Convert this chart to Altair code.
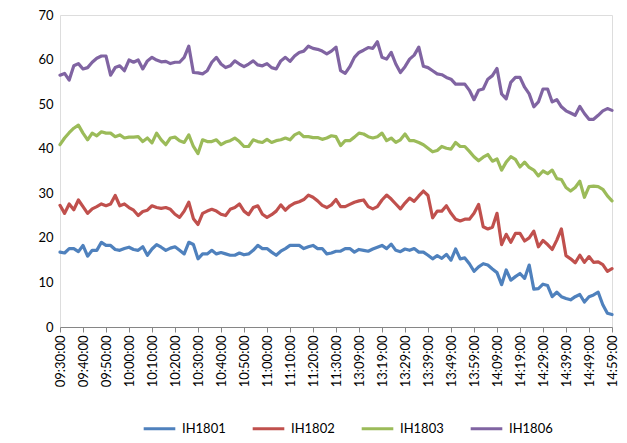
import json
import altair as alt
import pandas as pd

# x positions: minute index of the trading session (0 = 09:30, 240 = 14:59), every 2 minutes
minute_idx = list(range(0, 241, 2))

tick_labels = ["09:30:00", "09:40:00", "09:50:00", "10:00:00", "10:10:00", "10:20:00",
               "10:30:00", "10:40:00", "10:50:00", "11:00:00", "11:10:00", "11:20:00",
               "11:30:00", "13:09:00", "13:19:00", "13:29:00", "13:39:00", "13:49:00",
               "13:59:00", "14:09:00", "14:19:00", "14:29:00", "14:39:00", "14:49:00",
               "14:59:00"]

series_names = ["IH1801", "IH1802", "IH1803", "IH1806"]
series_colors = ["#4F81BD", "#C0504D", "#9BBB59", "#8064A2"]

ih1801 = [16.8, 16.6, 17.6, 17.6, 16.9, 18.3, 15.9, 17.2, 17.2, 19.0,
          18.3, 18.3, 17.4, 17.2, 17.6, 17.9, 17.4, 17.2, 18.0, 16.1,
          17.5, 18.5, 17.9, 17.2, 17.7, 18.0, 17.2, 16.4, 19.0, 18.5,
          15.3, 16.4, 16.4, 17.2, 16.4, 16.7, 16.4, 16.1, 16.1, 16.6,
          16.2, 16.4, 17.2, 18.3, 17.6, 17.6, 16.8, 16.1, 17.0, 17.6,
          18.3, 18.3, 18.3, 17.6, 18.0, 18.3, 17.6, 17.6, 16.4, 16.6,
          17.0, 17.0, 17.6, 17.6, 16.8, 17.4, 17.2, 17.0, 17.5, 17.9,
          18.3, 17.6, 18.6, 17.2, 16.9, 17.5, 17.2, 17.6, 16.8, 16.8,
          16.1, 15.3, 16.0, 15.4, 16.3, 15.0, 17.5, 15.3, 15.5, 14.2,
          12.5, 13.5, 14.2, 13.9, 13.0, 12.2, 9.5, 12.8, 10.5, 11.3,
          12.0, 10.9, 13.9, 8.5, 8.6, 9.6, 9.3, 6.8, 7.8, 6.8,
          6.4, 6.1, 6.8, 7.3, 5.6, 6.8, 7.2, 7.8, 5.0, 3.1,
          2.8]

ih1802 = [27.3, 25.5, 27.6, 26.3, 28.5, 27.0, 25.5, 26.5, 27.0, 27.6,
          27.2, 27.6, 29.5, 27.2, 27.6, 26.8, 26.2, 25.0, 25.9, 26.2,
          27.2, 26.8, 26.6, 26.8, 26.4, 25.3, 24.6, 26.0, 28.0, 24.3,
          23.0, 25.5, 26.0, 26.4, 26.0, 25.3, 25.0, 26.4, 26.8, 27.6,
          26.0, 25.2, 26.8, 27.2, 25.3, 24.6, 25.2, 26.0, 27.4, 26.2,
          27.2, 27.8, 28.1, 28.6, 29.6, 29.1, 28.3, 27.3, 26.8, 27.4,
          28.6, 27.0, 27.0, 27.5, 28.0, 28.3, 28.5, 27.0, 26.5, 27.0,
          28.5, 29.6, 28.7, 27.6, 26.5, 27.8, 28.9, 28.2, 29.4, 30.5,
          29.5, 24.5, 26.0, 26.0, 27.2, 25.5, 24.2, 23.8, 24.2, 24.2,
          25.5, 27.5, 22.5, 22.0, 22.4, 25.5, 18.5, 20.8, 19.0, 21.0,
          21.0, 19.3, 20.0, 21.5, 18.0, 19.4, 18.5, 17.4, 19.5, 22.0,
          16.0, 15.3, 14.4, 16.1, 14.5, 15.8, 14.5, 14.6, 14.0, 12.5,
          13.1]

ih1803 = [40.9, 42.4, 43.6, 44.6, 45.3, 43.5, 42.0, 43.5, 42.9, 43.8,
          43.5, 43.5, 42.7, 43.1, 42.4, 42.6, 42.6, 42.7, 41.6, 42.4,
          41.3, 43.5, 42.0, 40.9, 42.4, 42.6, 41.8, 41.4, 43.1, 40.5,
          38.9, 42.0, 41.6, 41.6, 42.0, 40.9, 41.5, 41.8, 42.4, 41.6,
          40.5, 40.5, 42.0, 41.6, 41.4, 42.1, 41.4, 41.8, 42.0, 42.4,
          42.0, 43.1, 43.6, 42.7, 42.7, 42.5, 42.5, 42.1, 42.4, 42.9,
          42.7, 40.7, 41.8, 41.8, 42.6, 43.5, 43.3, 42.7, 42.4, 42.7,
          43.5, 41.8, 42.4, 41.4, 42.0, 43.3, 41.8, 41.8, 41.4, 40.9,
          40.1, 39.3, 39.6, 40.5, 40.1, 39.9, 41.4, 40.5, 40.5, 39.4,
          38.2, 37.3, 38.1, 38.7, 37.2, 37.7, 35.2, 37.0, 38.2, 37.6,
          35.9, 37.0, 35.8, 35.2, 33.9, 35.0, 34.4, 35.2, 33.3, 33.1,
          31.3, 30.5, 31.3, 32.7, 29.1, 31.5, 31.6, 31.5, 30.9, 29.4,
          28.3]

ih1806 = [56.5, 56.9, 55.4, 58.6, 59.1, 57.9, 58.2, 59.4, 60.3, 60.8,
          60.8, 56.5, 58.2, 58.6, 57.5, 59.9, 59.4, 59.9, 57.9, 59.7,
          60.5, 59.9, 59.5, 59.6, 59.1, 59.4, 59.4, 60.5, 63.0, 57.1,
          57.0, 56.8, 57.5, 59.4, 60.5, 59.0, 58.2, 58.6, 59.7, 59.0,
          58.4, 59.0, 59.7, 58.8, 58.6, 59.1, 58.2, 57.9, 59.7, 60.5,
          59.6, 60.8, 61.6, 61.9, 63.0, 62.5, 62.3, 61.9, 61.3, 61.9,
          62.8, 57.5, 56.9, 58.4, 60.5, 61.6, 62.1, 62.7, 62.5, 64.0,
          60.5, 60.1, 61.6, 59.0, 57.1, 58.4, 60.1, 61.0, 62.8, 58.5,
          58.2, 57.5, 56.8, 56.6, 56.0, 55.6, 54.5, 54.5, 54.5, 53.1,
          51.0, 53.1, 53.4, 55.6, 56.4, 58.0, 52.3, 51.2, 54.9, 56.0,
          56.0, 53.8, 52.3, 49.4, 50.5, 53.4, 53.4, 50.5, 51.0, 49.4,
          48.5, 48.0, 47.5, 49.5, 47.9, 46.6, 46.6, 47.5, 48.5, 49.0,
          48.6]

rows = []
for name, vals in zip(series_names, [ih1801, ih1802, ih1803, ih1806]):
    for m, v in zip(minute_idx, vals):
        rows.append({"series": name, "idx": m, "value": v})
df = pd.DataFrame(rows)

FONT = "Lato"
label_expr = json.dumps(tick_labels) + "[round(datum.value / 10)]"

chart = alt.Chart(df).mark_line(strokeWidth=3.2, strokeJoin="round", strokeCap="round").encode(
    x=alt.X("idx:Q",
            scale=alt.Scale(domain=[0, 240], nice=False, zero=False),
            axis=alt.Axis(values=list(range(0, 241, 10)), labelExpr=label_expr,
                          labelAngle=270, labelFontSize=13, labelFont=FONT,
                          labelColor="#000000", labelPadding=3,
                          labelOverlap=False, labelFlush=False,
                          domainColor="#868686", domainWidth=1,
                          tickColor="#868686", tickSize=5,
                          grid=False, title=None)),
    y=alt.Y("value:Q",
            scale=alt.Scale(domain=[0, 70], nice=False),
            axis=alt.Axis(values=list(range(0, 71, 10)), labelFontSize=13, labelFont=FONT,
                          labelColor="#000000", labelPadding=7,
                          domain=False, ticks=False, grid=False, title=None)),
    color=alt.Color("series:N",
                    scale=alt.Scale(domain=series_names, range=series_colors),
                    legend=alt.Legend(orient="none", legendX=82, legendY=396,
                                      direction="horizontal", title=None,
                                      symbolType="stroke", symbolSize=1000,
                                      symbolStrokeWidth=3, labelFontSize=13,
                                      labelFont=FONT, labelColor="#000000",
                                      labelOffset=5, columnPadding=20, padding=0)),
    order=alt.Order("idx:Q"),
).properties(
    width=552, height=312,
    autosize=alt.AutoSizeParams(type="none"),
    padding={"left": 52, "top": 7, "right": 7, "bottom": 108},
).configure_view(stroke=None).configure(background="#ffffff")

chart.save("out.html", embed_options={"renderer": "svg", "actions": False})
